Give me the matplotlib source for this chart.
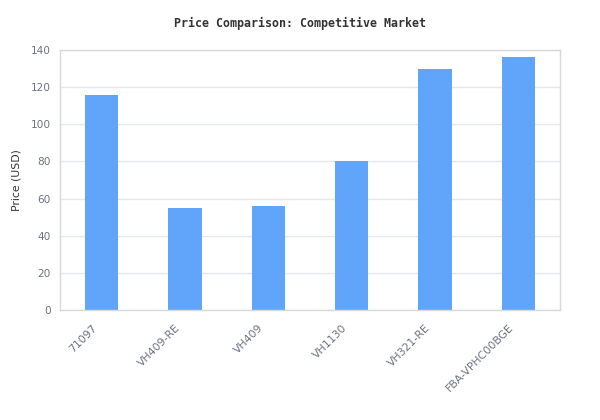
import matplotlib
matplotlib.use("Agg")
import matplotlib.pyplot as plt
from matplotlib.transforms import ScaledTranslation

models = ["71097", "VH409-RE", "VH409", "VH1130", "VH321-RE", "FBA-VPHC00BGE"]
prices = [116, 55, 56, 80, 130, 136]

fig = plt.figure(figsize=(6, 4.2), dpi=100)
ax = fig.add_axes([0.1, 110 / 420, 0.8333, 260 / 420])

ax.bar(range(len(models)), prices, width=0.4, color="#60a5fa", zorder=2)

ax.set_xlim(-0.5, len(models) - 0.5)
ax.set_ylim(0, 140)
ax.set_yticks(range(0, 141, 20))
ax.grid(axis="y", color="#e5e7eb", linewidth=1, zorder=0)
for s in ax.spines.values():
    s.set_color("#d9d9d9")
    s.set_linewidth(1)

ax.set_xticks(range(len(models)))
ax.set_xticklabels(models, rotation=45, ha="right", rotation_mode="anchor")
ax.tick_params(axis="both", length=0, labelsize=7.6, labelcolor="#6b7280")
ax.tick_params(axis="x", labelsize=7.85, pad=9)
ax.tick_params(axis="y", pad=6.5)
shift = ScaledTranslation(-10 / 100, 0, fig.dpi_scale_trans)
for lab in ax.get_xticklabels():
    lab.set_transform(lab.get_transform() + shift)

ax.set_ylabel("Price (USD)", fontsize=7.8, color="#333333", labelpad=7)

fig.text(0.5, 1 - 23 / 420, "Price Comparison: Competitive Market",
         family="DejaVu Sans Mono", weight="bold", fontsize=8.4,
         color="#333333", ha="center", va="center")

fig.savefig("out.png", dpi=100, facecolor="white")
